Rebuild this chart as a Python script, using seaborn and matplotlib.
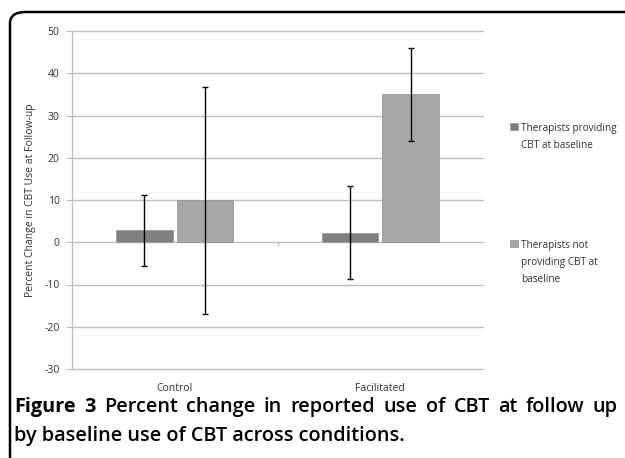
import numpy as np
import pandas as pd
import matplotlib
matplotlib.use("Agg")
import matplotlib.pyplot as plt
import seaborn as sns
from matplotlib.patches import FancyBboxPatch

conditions = ["Control", "Facilitated"]
groups = ["Therapists providing\nCBT at baseline",
          "Therapists not\nproviding CBT at\nbaseline"]
# percent change, per group, per condition
change_providing = [2.8, 2.3]
change_not_providing = [10.0, 35.0]
# error bar bounds (lower, upper)
lower_providing = [-5.7, -8.8]
upper_providing = [11.2, 13.2]
lower_not_providing = [-17.0, 24.0]
upper_not_providing = [36.8, 46.0]

colors = ["#7f7f7f", "#a6a6a6"]
grid_c = "#bfbfbf"
txt_c = "#333333"

df = pd.DataFrame({
    "condition": conditions * 2,
    "group": [groups[0]] * 2 + [groups[1]] * 2,
    "change": change_providing + change_not_providing,
    "lo": lower_providing + lower_not_providing,
    "hi": upper_providing + upper_not_providing,
})

sns.set_style("white")
plt.rcParams["font.family"] = ["Open Sans", "DejaVu Sans"]
plt.rcParams["axes.unicode_minus"] = False

fig = plt.figure(figsize=(6.25, 4.58), dpi=100)
ax = fig.add_axes([72 / 625, 1 - 369 / 458, 411 / 625, 338 / 458])

sns.barplot(data=df, x="condition", y="change", hue="group", order=conditions,
            hue_order=groups, palette=colors, width=0.59, gap=0.07,
            errorbar=None, ax=ax, edgecolor="#9a9a9a", linewidth=0.6, zorder=2)

# asymmetric error bars at each bar centre
for gi, g in enumerate(groups):
    sub = df[df["group"] == g].set_index("condition").loc[conditions]
    for ci, c in enumerate(conditions):
        p = ax.patches[gi * len(conditions) + ci]
        xc = p.get_x() + p.get_width() / 2
        m = sub.loc[c, "change"]
        ax.errorbar(xc, m, yerr=[[m - sub.loc[c, "lo"]], [sub.loc[c, "hi"] - m]],
                    fmt="none", ecolor="black", elinewidth=1.0, capsize=2.5,
                    capthick=1.0, zorder=3)

ax.set_ylim(-30, 50)
ax.set_xlim(-0.5, 1.5)
ax.set_yticks(np.arange(-30, 51, 10))
ax.yaxis.grid(True, color=grid_c, linewidth=1.0, zorder=0)
ax.set_axisbelow(True)
for s in ["top", "right", "bottom"]:
    ax.spines[s].set_visible(False)
ax.spines["left"].set_color(grid_c)
ax.spines["left"].set_linewidth(1.0)
ax.tick_params(axis="y", length=4, color=grid_c, labelsize=7.5, labelcolor=txt_c, pad=5,
               left=True)
ax.tick_params(axis="x", length=0, labelsize=7.5, labelcolor=txt_c, pad=10)
ax.vlines([0.5, 1.5], -0.9, 0, color=grid_c, linewidth=1.0)
ax.set_xlabel("")
ax.set_ylabel("Percent Change in CBT Use at Follow-up", fontsize=7.5, color=txt_c,
              labelpad=6)

fig.canvas.draw()
for gl in ax.get_ygridlines():
    gl.set_clip_on(False)

leg = ax.legend(loc="upper left", bbox_to_anchor=(510 / 625, 1 - 123 / 458),
                bbox_transform=fig.transFigure, frameon=False, fontsize=7.2,
                handlelength=0.75, handleheight=0.75, handletextpad=0.35,
                labelspacing=8.9, labelcolor=txt_c, borderpad=0, borderaxespad=0)
for t in leg.get_texts():
    t.set_linespacing(1.75)
for row in leg._legend_handle_box.get_children():
    for hp in row.get_children():
        hp.align = "top"

# rounded figure border
fig.patches.append(FancyBboxPatch((10 / 625, -0.2), 1.2, 1 - 12 / 458 + 0.2,
                                  boxstyle="round,pad=0,rounding_size=0.025",
                                  transform=fig.transFigure, fill=False,
                                  edgecolor="black", linewidth=1.8, figure=fig))

# caption, first line justified between x=14 and x=618 px
fs = 14.3
line1 = [("Figure", "bold"), ("3", "bold")] + \
        [(w, "semibold") for w in "Percent change in reported use of CBT at follow up".split()]
renderer = fig.canvas.get_renderer()
words = []
for w, wt in line1:
    t = fig.text(0, 1 - 412 / 458, w, fontsize=fs, fontweight=wt, color="black",
                 va="baseline", ha="left")
    words.append((t, t.get_window_extent(renderer).width))
gap = (604 - sum(wd for _, wd in words)) / (len(words) - 1)
x = 14.0
for t, wd in words:
    t.set_x(x / 625)
    x += wd + gap
fig.text(14 / 625, 1 - 441 / 458, "by baseline use of CBT across conditions.",
         fontsize=fs, fontweight="semibold", color="black", va="baseline", ha="left")

fig.savefig("out.png", dpi=100)
